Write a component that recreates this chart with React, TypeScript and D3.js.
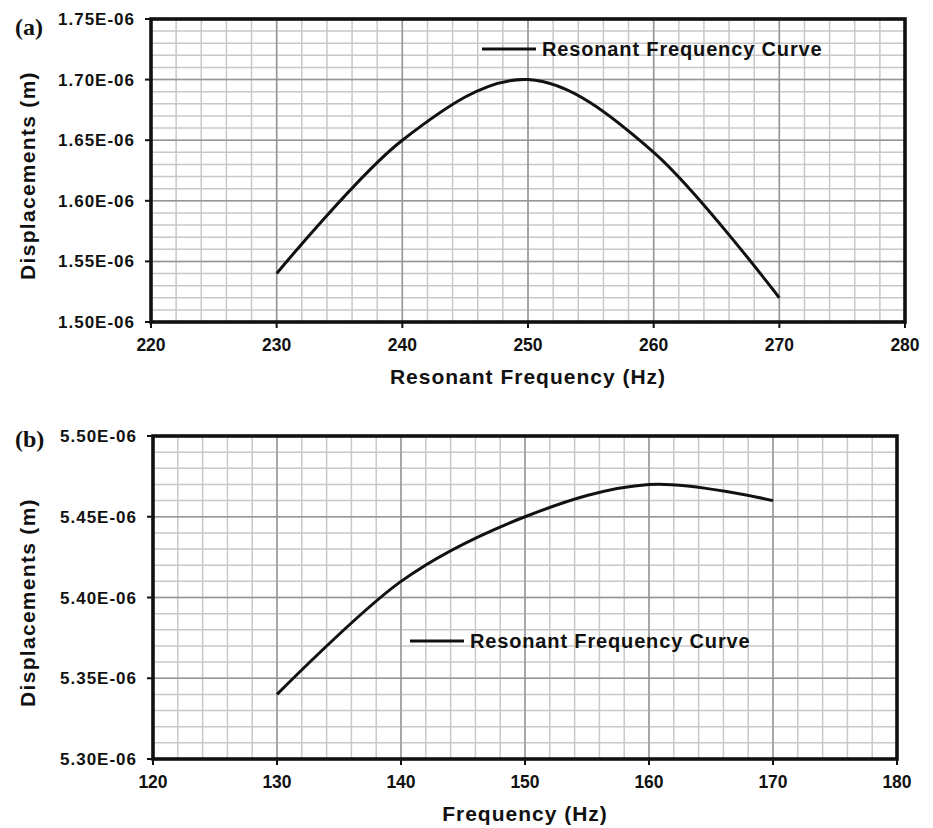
import React from "react";
import * as d3 from "d3";

const freqA = [230, 240, 250, 260, 270];
const dispA = [1.54e-6, 1.65e-6, 1.7e-6, 1.64e-6, 1.52e-6];
const freqB = [130, 140, 150, 160, 170];
const dispB = [5.34e-6, 5.41e-6, 5.45e-6, 5.47e-6, 5.46e-6];

const xTicksA = [220, 230, 240, 250, 260, 270, 280];
const yTicksA = [1.5e-6, 1.55e-6, 1.6e-6, 1.65e-6, 1.7e-6, 1.75e-6];
const xTicksB = [120, 130, 140, 150, 160, 170, 180];
const yTicksB = [5.3e-6, 5.35e-6, 5.4e-6, 5.45e-6, 5.5e-6];

const legendLabel = "Resonant Frequency Curve";
const yTitle = "Displacements (m)";
const xTitleA = "Resonant Frequency (Hz)";
const xTitleB = "Frequency (Hz)";

const SANS = "'Liberation Sans', Arial, sans-serif";
const SERIF = "'Liberation Serif', 'Times New Roman', serif";

function fmt(v: number) {
  return (v * 1e6).toFixed(2) + "E-06";
}

type PanelProps = {
  freq: number[];
  disp: number[];
  xTicks: number[];
  yTicks: number[];
  box: { x0: number; x1: number; y0: number; y1: number };
  label: string;
  labelPos: [number, number];
  xTitle: string;
  legend: { x: number; y: number };
};

function Panel({ freq, disp, xTicks, yTicks, box, label, labelPos, xTitle, legend }: PanelProps) {
  const xDom = d3.extent(xTicks) as [number, number];
  const yDom = d3.extent(yTicks) as [number, number];
  const x = d3.scaleLinear().domain(xDom).range([box.x0, box.x1]);
  const y = d3.scaleLinear().domain(yDom).range([box.y1, box.y0]);
  const xStep = (xTicks[1] - xTicks[0]) / 5;
  const yStep = (yTicks[1] - yTicks[0]) / 5;
  const xMinor = d3.range(0, Math.round((xDom[1] - xDom[0]) / xStep) + 1).map((i) => xDom[0] + i * xStep);
  const yMinor = d3.range(0, Math.round((yDom[1] - yDom[0]) / yStep) + 1).map((i) => yDom[0] + i * yStep);
  const line = d3
    .line<number>()
    .x((_, i) => x(freq[i]))
    .y((d) => y(d))
    .curve(d3.curveCardinal.tension(0));
  const midY = (box.y0 + box.y1) / 2 + 5;
  const midX = (box.x0 + box.x1) / 2;
  return (
    <g>
      {xMinor.map((v, i) => (
        <line key={"xm" + i} x1={x(v)} x2={x(v)} y1={box.y0} y2={box.y1} stroke="#c8c8c8" strokeWidth={1.5} />
      ))}
      {yMinor.map((v, i) => (
        <line key={"ym" + i} x1={box.x0} x2={box.x1} y1={y(v)} y2={y(v)} stroke="#c8c8c8" strokeWidth={1.5} />
      ))}
      {xTicks.map((v, i) => (
        <line key={"xM" + i} x1={x(v)} x2={x(v)} y1={box.y0} y2={box.y1} stroke="#969696" strokeWidth={1.5} />
      ))}
      {yTicks.map((v, i) => (
        <line key={"yM" + i} x1={box.x0} x2={box.x1} y1={y(v)} y2={y(v)} stroke="#969696" strokeWidth={1.5} />
      ))}
      <path d={line(disp) || ""} fill="none" stroke="#111" strokeWidth={3} />
      <rect x={box.x0} y={box.y0} width={box.x1 - box.x0} height={box.y1 - box.y0} fill="none" stroke="#111" strokeWidth={3.6} />
      {yTicks.map((v, i) => (
        <g key={"yt" + i}>
          <line x1={box.x0 - 6} x2={box.x0} y1={y(v)} y2={y(v)} stroke="#111" strokeWidth={2} />
          <text
            x={box.x0 - 16}
            y={y(v) + 6}
            textAnchor="end"
            fontFamily={SANS}
            fontWeight="bold"
            fontSize={17}
            style={{ letterSpacing: "1px" }}
            fill="#111"
          >
            {fmt(v)}
          </text>
        </g>
      ))}
      {xTicks.map((v, i) => (
        <g key={"xt" + i}>
          <line x1={x(v)} x2={x(v)} y1={box.y1} y2={box.y1 + 6} stroke="#111" strokeWidth={2} />
          <text x={x(v)} y={box.y1 + 29} textAnchor="middle" fontFamily={SANS} fontWeight="bold" fontSize={17.5} fill="#111">
            {v}
          </text>
        </g>
      ))}
      <text
        transform={`translate(35,${midY}) rotate(-90)`}
        textAnchor="middle"
        fontFamily={SANS}
        fontWeight="bold"
        fontSize={21}
        style={{ letterSpacing: "1.3px" }}
        fill="#111"
      >
        {yTitle}
      </text>
      <text
        x={midX}
        y={box.y1 + 62}
        textAnchor="middle"
        fontFamily={SANS}
        fontWeight="bold"
        fontSize={21}
        style={{ letterSpacing: "1px" }}
        fill="#111"
      >
        {xTitle}
      </text>
      <text x={labelPos[0]} y={labelPos[1]} fontFamily={SERIF} fontWeight="bold" fontSize={24} fill="#111">
        {label}
      </text>
      <line x1={legend.x} x2={legend.x + 54} y1={legend.y} y2={legend.y} stroke="#111" strokeWidth={3} />
      <text
        x={legend.x + 60}
        y={legend.y + 6.5}
        fontFamily={SANS}
        fontWeight="bold"
        fontSize={20}
        style={{ letterSpacing: "0.85px" }}
        fill="#111"
      >
        {legendLabel}
      </text>
    </g>
  );
}

export default function App() {
  return (
    <svg
      width={933}
      height={828}
      viewBox="0 0 933 828"
      style={{ position: "absolute", left: 0, top: 0, background: "#fff" }}
    >
      <rect x={0} y={0} width={933} height={828} fill="#fff" />
      <Panel
        freq={freqA}
        disp={dispA}
        xTicks={xTicksA}
        yTicks={yTicksA}
        box={{ x0: 151, x1: 905, y0: 19, y1: 322 }}
        label="(a)"
        labelPos={[15, 35]}
        xTitle={xTitleA}
        legend={{ x: 482, y: 49 }}
      />
      <Panel
        freq={freqB}
        disp={dispB}
        xTicks={xTicksB}
        yTicks={yTicksB}
        box={{ x0: 153, x1: 897, y0: 436, y1: 759 }}
        label="(b)"
        labelPos={[15, 447]}
        xTitle={xTitleB}
        legend={{ x: 410, y: 641 }}
      />
    </svg>
  );
}
